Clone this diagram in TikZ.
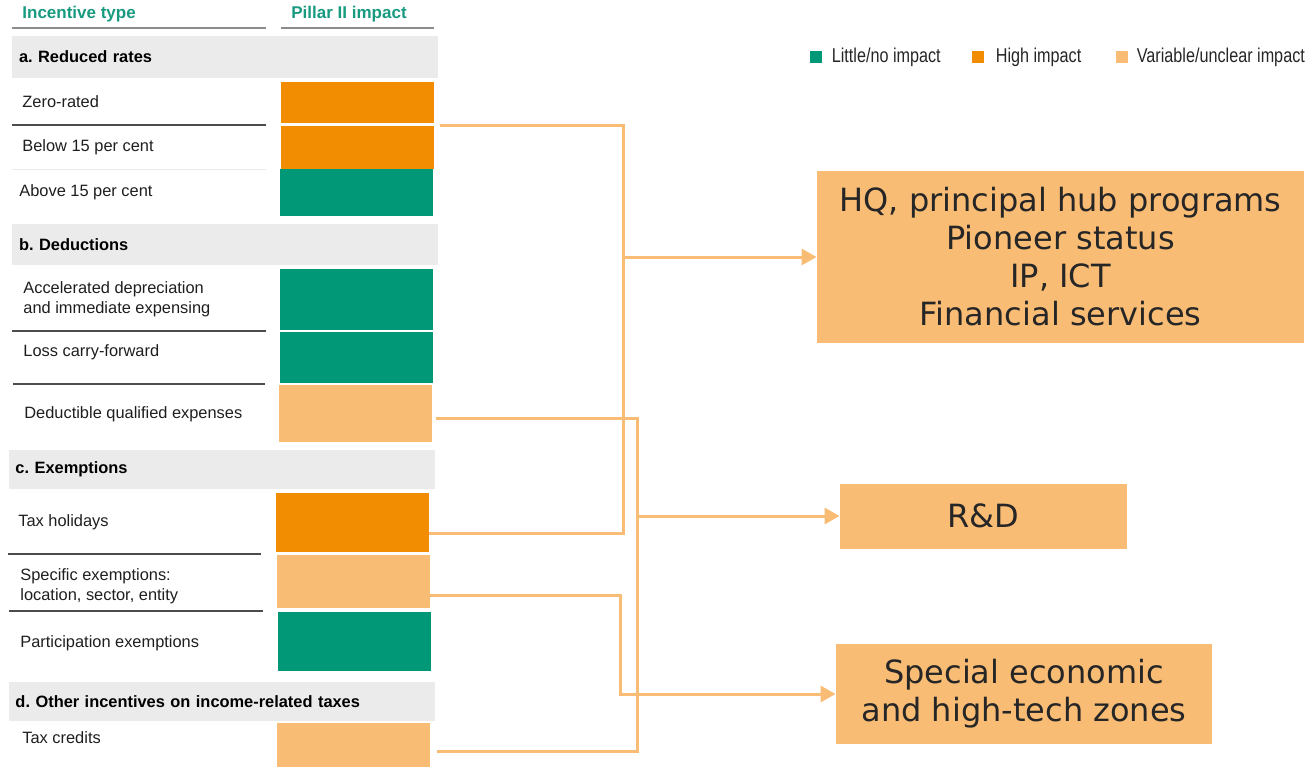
\documentclass[tikz,border=0pt]{standalone}
\usepackage{fontspec}
\setmainfont{Liberation Sans}
\newfontfamily\boxfont{DejaVu Sans}
\newfontfamily\keyfont[FakeStretch=0.81]{Liberation Sans}
\usetikzlibrary{arrows.meta,calc,positioning}
\definecolor{lowimp}{RGB}{0,152,119}
\definecolor{hiimp}{RGB}{242,140,0}
\definecolor{varimp}{RGB}{249,188,117}
\definecolor{bandgray}{RGB}{235,235,235}
\definecolor{headteal}{RGB}{24,154,128}
\definecolor{ink}{RGB}{30,30,30}
\tikzset{
  cell/.style={minimum width=76.5pt, inner sep=0pt},
  band/.style={fill=bandgray, text width=206pt, inner xsep=3.5pt, inner ysep=0pt, align=left,
    font=\bfseries\fontsize{8.2}{10}\selectfont, text=black},
  rowtxt/.style={anchor=west, inner sep=0pt, align=left, font=\fontsize{8.2}{10}\selectfont, text=ink},
  headtxt/.style={anchor=west, inner sep=0pt, font=\bfseries\fontsize{8.5}{10}\selectfont, text=headteal},
  rule/.style={line width=0.75pt, draw=black!70},
  link/.style={draw=varimp, line width=1.5pt},
  feed/.style={link, -{Triangle[length=7.5pt,width=8pt]}},
  goal/.style={fill=varimp, font=\boxfont\fontsize{16}{19}\selectfont, text=black!85, align=center, inner sep=0pt},
  key/.style={minimum size=6pt, inner sep=0pt},
  keytxt/.style={font=\keyfont\fontsize{10}{12}\selectfont, text=black!85, inner sep=0pt}
}
\begin{document}
\frenchspacing
\begin{tikzpicture}[x=0.5pt,y=-0.5pt]
  \useasboundingbox (0,0) rectangle (1315,766);
  % table header
  \node[headtxt] (hType) at (22,14) {Incentive type};
  \node[headtxt] (hImpact) at (291,14) {Pillar II impact};
  \draw[line width=1pt, draw=black!45] (12,28) -- (266,28);
  \draw[line width=1pt, draw=black!45] (281,28) -- (434,28);
  % section bands
  \node[band, minimum height=21pt] (secA) at (225,57) {a. Reduced rates};
  \node[band, minimum height=20.5pt] (secB) at (225,244.5) {b. Deductions};
  \node[band, minimum height=19.5pt] (secC) at (221.5,469.5) {c. Exemptions};
  \node[band, minimum height=19.5pt] (secD) at (221.5,701.5) {d. Other incentives on income-related taxes};
  % impact cells
  \foreach \n/\cx/\cy/\h/\c in {zero/357.5/102.5/20.5pt/hiimp, below/357.5/147.5/21.5pt/hiimp,
      above/356.5/192.5/23.5pt/lowimp, accel/356/299.5/30.5pt/lowimp, loss/356/357.5/25.5pt/lowimp,
      deduct/355/413.5/28.5pt/varimp, holiday/352.5/522.5/29.5pt/hiimp, specific/353.5/581.5/26.5pt/varimp,
      partic/354.5/641.5/29.5pt/lowimp, credits/353/746.5/23.5pt/varimp}
    \node[cell, fill=\c, minimum height=\h] (\n) at (\cx,\cy) {};
  % row labels
  \node[rowtxt] (tZero) at (22,102) {Zero-rated};
  \node[rowtxt] (tBelow) at (22,147) {Below 15 per cent};
  \node[rowtxt] (tAbove) at (19,192) {Above 15 per cent};
  \node[rowtxt] (tAccel) at (23,299) {Accelerated depreciation\\and immediate expensing};
  \node[rowtxt] (tLoss) at (23,352) {Loss carry-forward};
  \node[rowtxt] (tDeduct) at (24,414) {Deductible qualified expenses};
  \node[rowtxt] (tHoliday) at (18,522) {Tax holidays};
  \node[rowtxt] (tSpecific) at (20,586) {Specific exemptions:\\location, sector, entity};
  \node[rowtxt] (tPartic) at (20,643) {Participation exemptions};
  \node[rowtxt] (tCredits) at (22,738) {Tax credits};
  % row rules
  \draw[rule] (12,125) -- (266,125);
  \draw[line width=0.5pt, draw=black!8] (12,169) -- (266,169);
  \draw[rule] (12,331) -- (266,331);
  \draw[rule] (13,384) -- (265,384);
  \draw[rule] (8,554) -- (261,554);
  \draw[rule] (9,611) -- (263,611);
  % legend
  \node[key, fill=lowimp] (kLow) at (816,57) {};
  \node[keytxt, right=4.5pt of kLow] (kLowTxt) {Little/no impact};
  \node[key, fill=hiimp] (kHigh) at (978,57) {};
  \node[keytxt, right=5.5pt of kHigh] (kHighTxt) {High impact};
  \node[key, fill=varimp] (kVar) at (1122,57) {};
  \node[keytxt, right=4pt of kVar] (kVarTxt) {Variable/unclear impact};
  % target boxes
  \node[goal, minimum width=243.5pt, minimum height=86pt] (hq) at (1060.5,257)
    {HQ, principal hub programs\\Pioneer status\\IP, ICT\\Financial services};
  \node[goal, minimum width=143.5pt, minimum height=32.5pt] (rd) at (983.5,516) {R\&D};
  \node[goal, minimum width=188pt, minimum height=50pt] (sez) at (1024,694)
    {Special economic\\and high-tech zones};
  % connectors
  \coordinate (jA) at (623,257);
  \coordinate (jB) at (637,516);
  \coordinate (jC) at (620,595);
  \draw[link] ($(zero.south east)+(6,2)$) -| (jA) |- ($(holiday.east)+(0,10.5)$);
  \draw[feed] (jA) -- (hq.west);
  \draw[link] ($(deduct.east)+(4,4.5)$) -| (jB) |- ($(credits.east)+(7,4.5)$);
  \draw[feed] (jB) -- (rd.west);
  \draw[feed] ($(specific.east)+(0,13.5)$) -- (jC) |- (sez.west);
\end{tikzpicture}
\end{document}
